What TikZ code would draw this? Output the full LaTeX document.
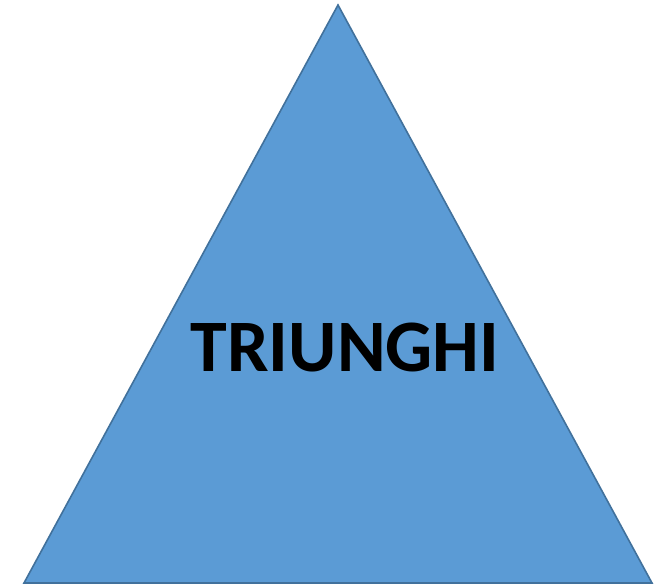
\documentclass[tikz,border=0pt]{standalone}
\usepackage{fontspec}
\setmainfont{Carlito}
\definecolor{trifill}{HTML}{5B9BD5}
\definecolor{tridraw}{HTML}{41719C}
\begin{document}
\begin{tikzpicture}[x=1pt,y=1pt,
  tri/.style={fill=trifill,draw=tridraw,line width=1.6pt,line join=miter},
  lbl/.style={font=\fontsize{74}{80}\selectfont\bfseries,text=black,inner sep=0pt}]
\useasboundingbox (0,0) rectangle (670,585);
\coordinate (apex) at (338,580);
\coordinate (bl) at (24,2);
\coordinate (br) at (652,2);
\draw[tri] (apex) -- (br) -- (bl) -- cycle;
\node[lbl,anchor=base] (t) at (345,213) {TRIUNGHI};
\end{tikzpicture}
\end{document}
